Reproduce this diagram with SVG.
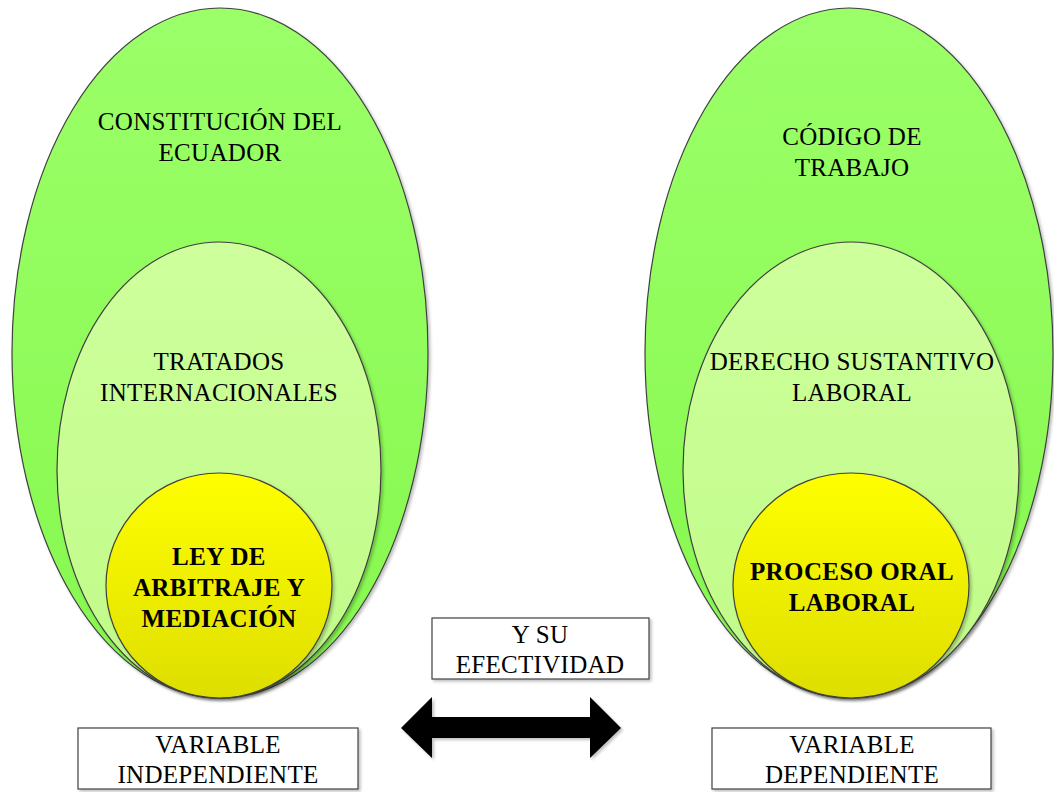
<svg xmlns="http://www.w3.org/2000/svg" width="1054" height="792" viewBox="0 0 1054 792">
<defs>
<linearGradient id="gOuter" x1="0" y1="0" x2="0" y2="1"><stop offset="0" stop-color="#9BFF68"/><stop offset="1" stop-color="#86F84E"/></linearGradient>
<linearGradient id="gInner" x1="0" y1="0" x2="0" y2="1"><stop offset="0" stop-color="#CEFF9C"/><stop offset="1" stop-color="#C0FB88"/></linearGradient>
<linearGradient id="gYellow" x1="0" y1="0" x2="0" y2="1"><stop offset="0" stop-color="#FFFF00"/><stop offset="1" stop-color="#DEDE00"/></linearGradient>
<filter id="sh" x="-10%" y="-10%" width="120%" height="120%"><feDropShadow dx="2" dy="2" stdDeviation="1.5" flood-color="#000" flood-opacity="0.25"/></filter>
</defs>
<style>
.o{fill:url(#gOuter);stroke:#404040;stroke-width:1.2;filter:url(#sh)}
.i{fill:url(#gInner);stroke:#404040;stroke-width:1.2;filter:url(#sh)}
.y{fill:url(#gYellow);stroke:#404040;stroke-width:1.2;filter:url(#sh)}
.b{fill:#fff;stroke:#404040;stroke-width:1.2;filter:url(#sh)}
text{font-family:"Liberation Serif","Times New Roman",serif;font-size:25px;fill:#000;text-anchor:middle;letter-spacing:0.3px}
.bd{font-weight:bold;font-size:25px;letter-spacing:0.4px}
</style>
<rect width="1054" height="792" fill="#fff"/>
<g id="constitucion">
<ellipse class="o" cx="220" cy="353" rx="208" ry="345"/>
<text x="220" y="130">CONSTITUCIÓN DEL</text>
<text x="220" y="161">ECUADOR</text>
</g>
<g id="tratados">
<ellipse class="i" cx="219" cy="470" rx="162" ry="228"/>
<text x="219" y="370">TRATADOS</text>
<text x="219" y="401">INTERNACIONALES</text>
</g>
<g id="ley">
<ellipse class="y" cx="219" cy="585.5" rx="113" ry="112.5"/>
<text class="bd" x="219" y="565">LEY DE</text>
<text class="bd" x="219" y="596">ARBITRAJE Y</text>
<text class="bd" x="219" y="627">MEDIACIÓN</text>
</g>
<g id="codigo">
<ellipse class="o" cx="849" cy="353" rx="204" ry="345"/>
<text x="852" y="145">CÓDIGO DE</text>
<text x="852" y="176">TRABAJO</text>
</g>
<g id="derecho">
<ellipse class="i" cx="851" cy="470" rx="168" ry="228"/>
<text x="852" y="370">DERECHO SUSTANTIVO</text>
<text x="852" y="401">LABORAL</text>
</g>
<g id="proceso">
<ellipse class="y" cx="851" cy="585.5" rx="118" ry="112.5"/>
<text class="bd" x="852" y="580">PROCESO ORAL</text>
<text class="bd" x="852" y="611">LABORAL</text>
</g>
<g id="efectividad">
<rect class="b" x="432" y="618" width="217" height="61"/>
<text x="540" y="643">Y SU</text>
<text x="540" y="673">EFECTIVIDAD</text>
</g>
<g id="independiente">
<rect class="b" x="78" y="728" width="280" height="61"/>
<text x="218" y="753">VARIABLE</text>
<text x="218" y="783">INDEPENDIENTE</text>
</g>
<g id="dependiente">
<rect class="b" x="712" y="728" width="279" height="61"/>
<text x="852" y="753">VARIABLE</text>
<text x="852" y="783">DEPENDIENTE</text>
</g>
<g id="connectors">
<polygon points="401,728 432,697 432,717 590,717 590,697 621,728 590,758 590,738 432,738 432,758" fill="#000" filter="url(#sh)"/>
</g>
</svg>
